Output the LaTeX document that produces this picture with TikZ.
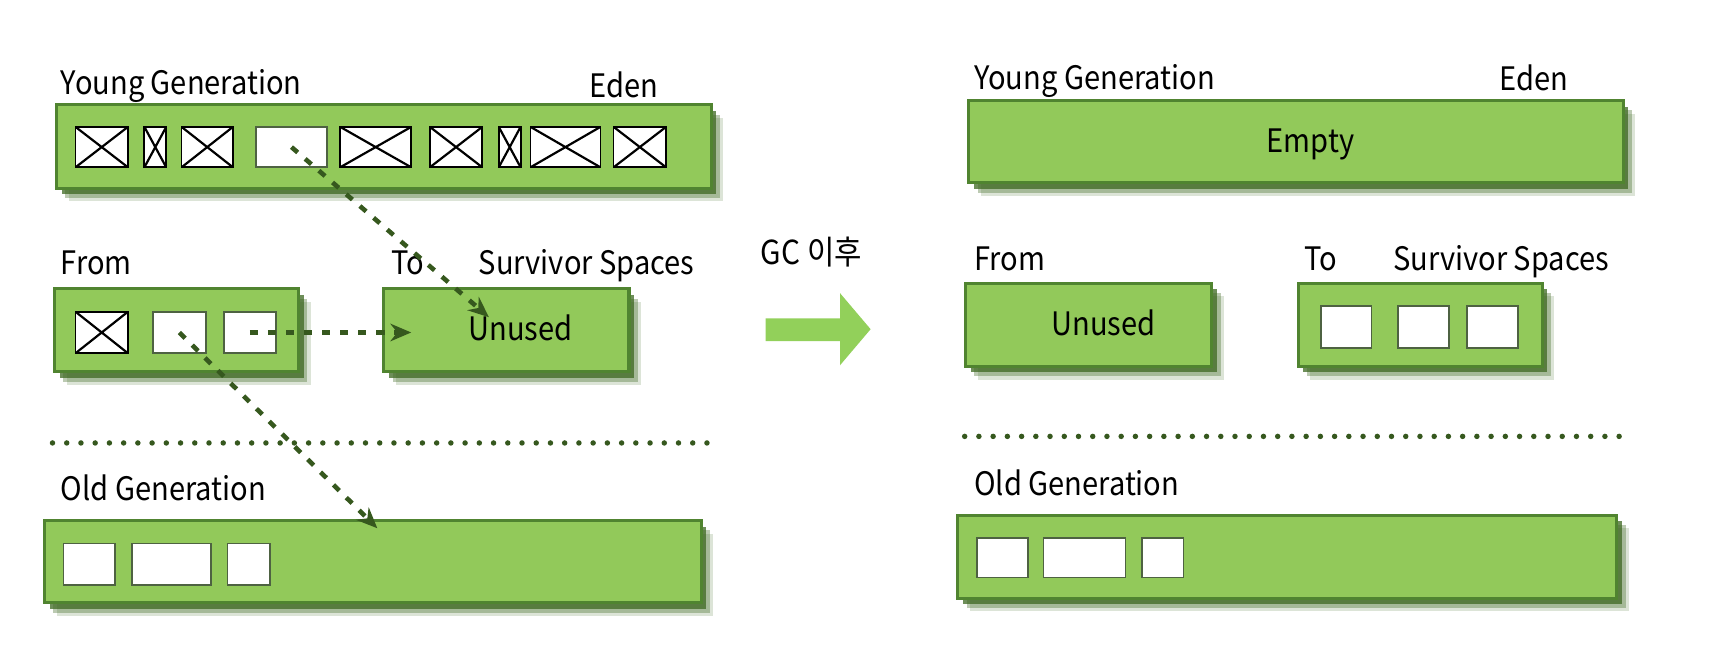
\documentclass[tikz,border=0pt]{standalone}
\usepackage{fontspec}
\setmainfont[FakeStretch=0.9]{Noto Sans CJK KR}
\usetikzlibrary{arrows.meta,shadows}
\definecolor{heapfill}{RGB}{146,201,90}
\definecolor{heapline}{RGB}{80,132,48}
\definecolor{heapshade}{RGB}{62,104,34}
\definecolor{movegreen}{RGB}{54,88,30}
\definecolor{cellline}{RGB}{78,98,66}
\definecolor{gcarrow}{RGB}{146,208,90}
\tikzset{
  heapbox/.style={draw=heapline, line width=0.028cm, fill=heapfill,
    minimum height=0.76cm, inner sep=0pt,
    drop shadow={shadow xshift=0.11cm, shadow yshift=-0.12cm, fill=heapshade, opacity=0.18},
    drop shadow={shadow xshift=0.08cm, shadow yshift=-0.09cm, fill=heapshade, opacity=0.35},
    drop shadow={shadow xshift=0.045cm, shadow yshift=-0.055cm, fill=heapshade, opacity=0.75}},
  cell/.style={draw=cellline, line width=0.016cm, fill=white,
    minimum height=0.37cm, inner sep=0pt},
  deadcell/.style={cell, draw=black, path picture={
    \draw[black, line width=0.02cm]
      (path picture bounding box.north west) -- (path picture bounding box.south east)
      (path picture bounding box.north east) -- (path picture bounding box.south west);}},
  heaplabel/.style={anchor=base west, inner sep=0pt, font=\fontsize{8.4}{10}\selectfont},
  boxtext/.style={anchor=base, inner sep=0pt, font=\fontsize{8.4}{10}\selectfont},
  move/.style={draw=movegreen, line width=0.042cm, dash pattern=on 0.075cm off 0.09cm,
    -{Stealth[length=0.19cm, width=0.16cm]}},
  gendiv/.style={draw=movegreen, line width=0.05cm, line cap=round,
    dash pattern=on 0pt off 0.13cm}
}
\begin{document}
\begin{tikzpicture}[x=0.01cm, y=-0.01cm]
  \useasboundingbox (0,0) rectangle (1568,613);

  % before GC: young generation
  \node[heaplabel] (yglabel) at (55,86) {Young Generation};
  \node[heaplabel] (edenlabel) at (538,89) {Eden};
  \node[heapbox, minimum width=5.98cm] (eden) at (351,134) {};
  \node[deadcell, minimum width=0.48cm] (e1) at (93,134.5) {};
  \node[deadcell, minimum width=0.20cm] (e2) at (142,134.5) {};
  \node[deadcell, minimum width=0.47cm] (e3) at (189.5,134.5) {};
  \node[cell, minimum width=0.65cm] (e4) at (266.5,134.5) {};
  \node[deadcell, minimum width=0.65cm] (e5) at (343.5,134.5) {};
  \node[deadcell, minimum width=0.48cm] (e6) at (417,134.5) {};
  \node[deadcell, minimum width=0.20cm] (e7) at (466,134.5) {};
  \node[deadcell, minimum width=0.64cm] (e8) at (517,134.5) {};
  \node[deadcell, minimum width=0.48cm] (e9) at (585,134.5) {};

  % before GC: survivor spaces
  \node[heaplabel] (fromlabel) at (55,251) {From};
  \node[heaplabel] (tolabel) at (357,251) {To};
  \node[heaplabel] (survlabel) at (437,251) {Survivor Spaces};
  \node[heapbox, minimum width=2.23cm] (from) at (161.5,302) {};
  \node[deadcell, minimum width=0.48cm, minimum height=0.38cm] (f1) at (93,304) {};
  \node[cell, minimum width=0.48cm, minimum height=0.38cm] (f2) at (164,304) {};
  \node[cell, minimum width=0.47cm, minimum height=0.38cm] (f3) at (228.5,304) {};
  \node[heapbox, minimum width=2.24cm] (to) at (463,302) {};
  \node[boxtext] (tounused) at (476,311) {Unused};

  % before GC: old generation
  \draw[gendiv] (48,405) -- (648,405);
  \node[heaplabel] (oglabel) at (55,458) {Old Generation};
  \node[heapbox, minimum width=6.00cm, minimum height=0.75cm] (old) at (341,513.5) {};
  \node[cell, minimum width=0.47cm, minimum height=0.38cm] (o1) at (81.5,516) {};
  \node[cell, minimum width=0.72cm, minimum height=0.38cm] (o2) at (157,516) {};
  \node[cell, minimum width=0.39cm, minimum height=0.38cm] (o3) at (227.5,516) {};

  % objects that survive
  \coordinate (tohit) at (447,290);
  \coordinate (tostop) at (376,304);
  \coordinate (oldhit) at (345,483);
  \draw[move] (e4.center) -- (tohit);
  \draw[move] (f3.center) -- (tostop);
  \draw[move] (f2.center) -- (oldhit);

  % GC step
  \node[heaplabel, font=\fontsize{8.6}{10}\selectfont] (gclabel) at (695,242) {GC 이후};
  \fill[gcarrow] (700,291) -- (768,291) -- (768,268) -- (796,301)
    -- (768,334) -- (768,312) -- (700,312) -- cycle;

  % after GC: young generation
  \node[heaplabel] (yglabel2) at (890,82) {Young Generation};
  \node[heaplabel] (edenlabel2) at (1370,83) {Eden};
  \node[heapbox, minimum width=5.98cm, minimum height=0.75cm] (eden2) at (1185,129.5) {};
  \node[boxtext] (edenempty) at (1198,139) {Empty};

  % after GC: survivor spaces
  \node[heaplabel] (fromlabel2) at (890,247) {From};
  \node[heaplabel] (tolabel2) at (1192,247) {To};
  \node[heaplabel] (survlabel2) at (1273,247) {Survivor Spaces};
  \node[heapbox, minimum width=2.25cm] (from2) at (995.5,297) {};
  \node[boxtext] (fromunused) at (1009,307) {Unused};
  \node[heapbox, minimum width=2.23cm] (to2) at (1298.5,297) {};
  \node[cell, minimum width=0.46cm, minimum height=0.38cm] (t1) at (1231,299) {};
  \node[cell, minimum width=0.47cm, minimum height=0.38cm] (t2) at (1301.5,299) {};
  \node[cell, minimum width=0.47cm, minimum height=0.38cm] (t3) at (1364.5,299) {};

  % after GC: old generation
  \draw[gendiv] (882,399) -- (1483,399);
  \node[heaplabel] (oglabel2) at (890,453) {Old Generation};
  \node[heapbox, minimum width=6.02cm] (old2) at (1177,509) {};
  \node[cell, minimum width=0.47cm, minimum height=0.36cm] (r1) at (916.5,510) {};
  \node[cell, minimum width=0.75cm, minimum height=0.36cm] (r2) at (991.5,510) {};
  \node[cell, minimum width=0.38cm, minimum height=0.36cm] (r3) at (1063,510) {};
\end{tikzpicture}
\end{document}
